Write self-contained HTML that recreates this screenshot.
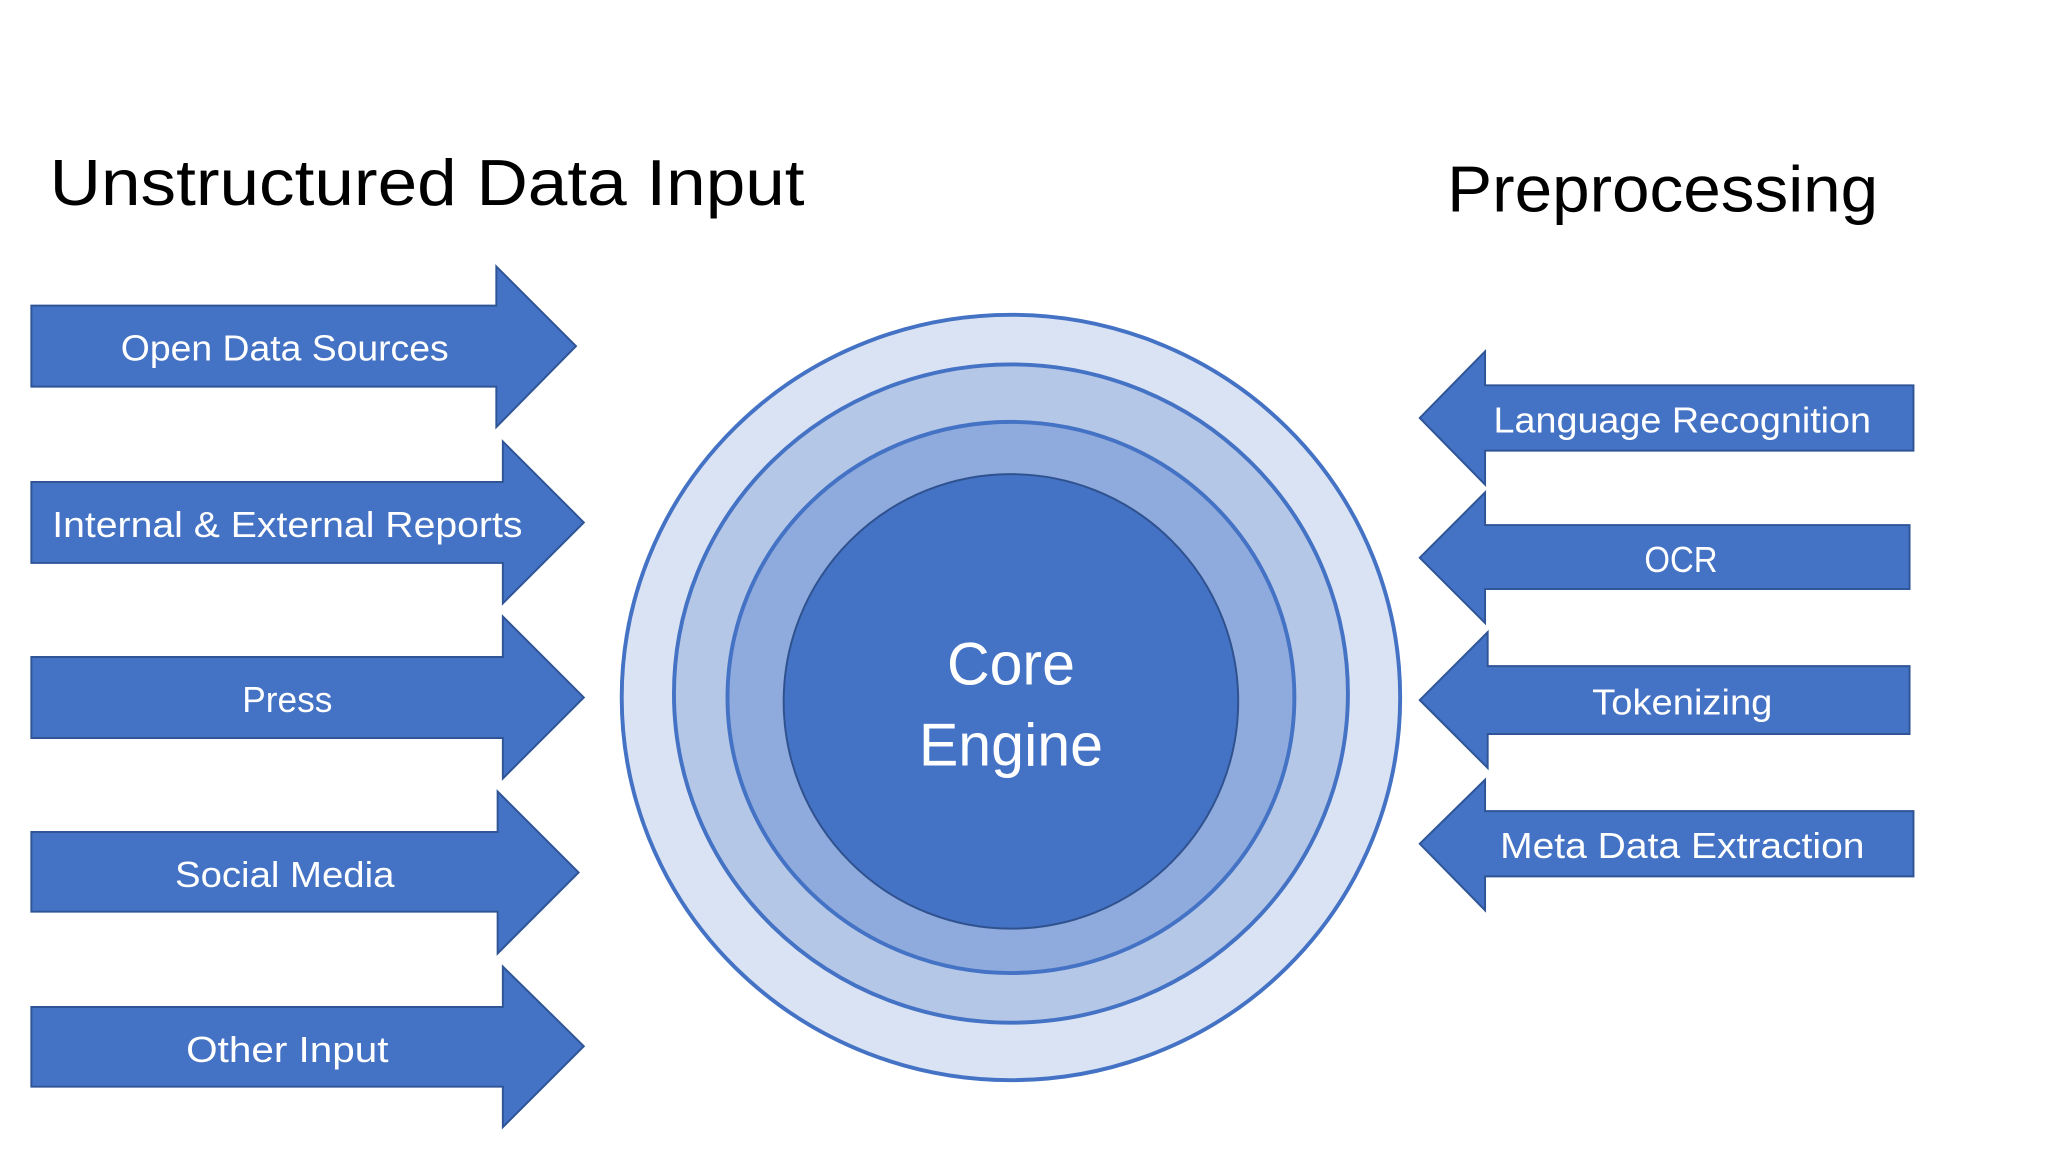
<!DOCTYPE html>
<html><head><meta charset="utf-8"><style>
html,body{margin:0;padding:0;background:#fff;}
svg{display:block;}
text{font-family:"Liberation Sans",sans-serif;}
</style></head><body>
<svg width="2048" height="1152" viewBox="0 0 1568 882" preserveAspectRatio="none" xmlns="http://www.w3.org/2000/svg">
<rect width="1568" height="882" fill="#fff"/>
<text x="38" y="157" font-size="50" fill="#000" textLength="578" lengthAdjust="spacingAndGlyphs">Unstructured Data Input</text>
<text x="1108" y="162" font-size="50" fill="#000" textLength="330" lengthAdjust="spacingAndGlyphs">Preprocessing</text>
<g fill="#4472c4" stroke="#2f5597" stroke-width="1.5">
<polygon points="24,234 380,234 380,204 441,265 380,327 380,296 24,296"/>
<polygon points="24,369 385,369 385,338 447,400 385,462 385,431 24,431"/>
<polygon points="24,503 385,503 385,472 447,534 385,596 385,565 24,565"/>
<polygon points="24,637 381,637 381,606 443,668 381,730 381,698 24,698"/>
<polygon points="24,771 385,771 385,740 447,801 385,863 385,832 24,832"/>
<polygon points="1465,295 1137,295 1137,269 1087,320 1137,371 1137,345 1465,345"/>
<polygon points="1462,402 1137,402 1137,377 1087,427 1137,477 1137,451 1462,451"/>
<polygon points="1462,510 1139,510 1139,484 1087,536 1139,588 1139,562 1462,562"/>
<polygon points="1465,621 1137,621 1137,597 1087,646 1137,697 1137,671 1465,671"/>
</g>
<g fill="#fff" font-size="28" text-anchor="middle">
<text x="218" y="276" textLength="251" lengthAdjust="spacingAndGlyphs">Open Data Sources</text>
<text x="220" y="411" textLength="360" lengthAdjust="spacingAndGlyphs">Internal &amp; External Reports</text>
<text x="220" y="545" textLength="69" lengthAdjust="spacingAndGlyphs">Press</text>
<text x="218" y="679" textLength="168" lengthAdjust="spacingAndGlyphs">Social Media</text>
<text x="220" y="813" textLength="155" lengthAdjust="spacingAndGlyphs">Other Input</text>
<text x="1288" y="331" textLength="289" lengthAdjust="spacingAndGlyphs">Language Recognition</text>
<text x="1287" y="438" textLength="56" lengthAdjust="spacingAndGlyphs">OCR</text>
<text x="1288" y="547" textLength="138" lengthAdjust="spacingAndGlyphs">Tokenizing</text>
<text x="1288" y="657" textLength="279" lengthAdjust="spacingAndGlyphs">Meta Data Extraction</text>
</g>
<ellipse cx="774" cy="534" rx="298" ry="293" fill="#dae3f3" stroke="#4472c4" stroke-width="3"/>
<ellipse cx="774" cy="531" rx="258" ry="252" fill="#b4c7e7" stroke="#4472c4" stroke-width="3"/>
<ellipse cx="774" cy="534" rx="217" ry="211" fill="#8faadc" stroke="#4472c4" stroke-width="3"/>
<ellipse cx="774" cy="537" rx="174" ry="174" fill="#4472c4" stroke="#2f528f" stroke-width="1.5"/>
<g fill="#fff" font-size="46" text-anchor="middle">
<text x="774" y="524" textLength="98" lengthAdjust="spacingAndGlyphs">Core</text>
<text x="774" y="586" textLength="141" lengthAdjust="spacingAndGlyphs">Engine</text>
</g>
</svg>
</body></html>
